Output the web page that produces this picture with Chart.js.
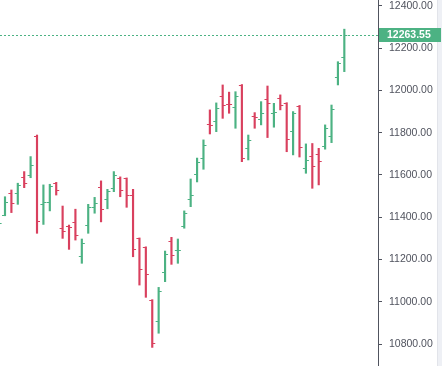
<!DOCTYPE html>
<html>
<head>
<meta charset="utf-8">
<script src="https://cdn.jsdelivr.net/npm/chart.js@4.4.1/dist/chart.umd.min.js"></script>
<style>
  html, body { margin: 0; padding: 0; background: #ffffff; }
  #wrap { width: 442px; height: 366px; position: relative; }
</style>
</head>
<body>
<div id="wrap"><canvas id="c" width="442" height="366"></canvas></div>
<script>
// ---- data (OHLC per session) ----
const sessions = Array.from({length: 55}, (_, i) => i);
const opens  = [11345,11411,11513,11513,11592,11600,11785,11461,11474,11561,
                11351,11359,11378,11215,11362,11447,11542,11485,11537,11584,
                11584,11505,11300,11258,11008,10907,11139,11288,11243,11360,
                11485,11603,11682,11840,11856,11975,11938,11920,12026,11726,
                11877,11864,11958,11895,11963,11939,11807,11927,11632,11688,
                11699,11737,11785,12063,12157];
const highs  = [11400,11497,11529,11561,11616,11687,11789,11553,11556,11565,
                11453,11363,11438,11297,11461,11494,11572,11532,11616,11591,
                11586,11532,11302,11260,11010,11068,11240,11305,11297,11430,
                11581,11680,11766,11908,11941,12026,11992,11994,12028,11789,
                11895,11947,12021,11939,11979,11942,11900,11929,11747,11749,
                11726,11837,11931,12136,12290];
const lows   = [11330,11407,11422,11461,11540,11587,11324,11366,11430,11505,
                11300,11248,11292,11182,11324,11419,11378,11440,11521,11497,
                11447,11213,11079,11021,10784,10851,11095,11177,11182,11348,
                11450,11567,11627,11794,11805,11868,11892,11821,11663,11671,
                11821,11837,11777,11826,11908,11710,11695,11685,11608,11537,
                11553,11722,11753,12026,12089];
const closes = [11374,11471,11469,11553,11561,11647,11384,11472,11548,11529,
                11335,11352,11315,11277,11447,11466,11439,11526,11600,11529,
                11505,11248,11154,11130,10803,11051,11225,11221,11247,11422,
                11505,11663,11742,11837,11916,11931,11934,11975,11679,11766,
                11875,11895,11942,11897,11931,11769,11895,11734,11671,11641,
                11668,11821,11912,12132,12263.55];
const yTicks = [10800, 11000, 11200, 11400, 11600, 11800, 12000, 12200, 12400];
const lastPrice = 12263.55;

const UP = '#4cb283';
const DOWN = '#d9405e';
const TEXT = '#50535e';
const barColors = sessions.map(i => closes[i] >= opens[i] ? UP : DOWN);

const ohlcTicks = {
  id: 'ohlcTicks',
  afterDatasetsDraw(chart) {
    const {ctx, chartArea, scales: {x, y}} = chart;
    ctx.save();
    ctx.beginPath();
    ctx.rect(chartArea.left, chartArea.top, chartArea.right - chartArea.left, chartArea.bottom - chartArea.top);
    ctx.clip();
    ctx.lineWidth = 1.2;
    sessions.forEach(i => {
      const px = x.getPixelForValue(i);
      const yo = Math.round(y.getPixelForValue(opens[i])) + 0.5;
      const yc = Math.round(y.getPixelForValue(closes[i])) + 0.5;
      ctx.strokeStyle = barColors[i];
      ctx.beginPath();
      ctx.moveTo(px - 3, yo); ctx.lineTo(px, yo);
      ctx.moveTo(px, yc); ctx.lineTo(px + 3, yc);
      ctx.stroke();
    });
    // last price dotted line
    const ly = Math.round(y.getPixelForValue(lastPrice)) + 0.5;
    ctx.lineWidth = 1;
    ctx.strokeStyle = UP;
    ctx.setLineDash([2, 2]);
    ctx.beginPath();
    ctx.moveTo(chartArea.left, ly); ctx.lineTo(chartArea.right, ly);
    ctx.stroke();
    ctx.restore();
  },
  afterDraw(chart) {
    const {ctx, chartArea, scales: {y}} = chart;
    ctx.save();
    // right edge strip
    ctx.fillStyle = '#eef0f5';
    ctx.fillRect(437, 0, 5, chart.height);
    ctx.strokeStyle = '#e2e4ea';
    ctx.lineWidth = 1;
    ctx.beginPath(); ctx.moveTo(437.5, 0); ctx.lineTo(437.5, chart.height); ctx.stroke();
    // last price label
    const ly = y.getPixelForValue(lastPrice);
    ctx.fillStyle = UP;
    ctx.fillRect(chartArea.right + 1, Math.round(ly) - 7, 62, 14);
    ctx.fillStyle = '#ffffff';
    ctx.font = 'bold 10.5px "Liberation Sans", Arial, sans-serif';
    ctx.textBaseline = 'middle';
    ctx.textAlign = 'left';
    ctx.fillText(lastPrice.toFixed(2), chartArea.right + 9, ly + 0.5);
    ctx.restore();
  }
};

new Chart(document.getElementById('c'), {
  type: 'bar',
  data: {
    datasets: [{
      data: sessions.map(i => ({x: i, y: [lows[i], highs[i]]})),
      backgroundColor: barColors,
      borderWidth: 0,
      barThickness: 1.5
    }]
  },
  options: {
    responsive: false,
    devicePixelRatio: 1,
    animation: false,
    layout: { padding: 0 },
    plugins: { legend: { display: false }, tooltip: { enabled: false } },
    scales: {
      x: {
        type: 'linear',
        min: 0.22,
        max: 59.26,
        display: false,
        offset: false
      },
      y: {
        position: 'right',
        min: 10696,
        max: 12428,
        afterBuildTicks: (scale) => { scale.ticks = yTicks.map(v => ({value: v})); },
        afterFit: (scale) => { scale.width = 64; scale.paddingTop = 0; scale.paddingBottom = 0; },
        grid: { display: true, drawOnChartArea: false, drawTicks: true, tickLength: 4, color: TEXT, lineWidth: 1 },
        border: { display: true, color: TEXT, width: 1 },
        ticks: {
          padding: 7,
          color: TEXT,
          font: { family: '"Liberation Sans", Arial, sans-serif', size: 10.5 },
          callback: (v) => Number(v).toFixed(2)
        }
      }
    }
  },
  plugins: [ohlcTicks]
});
</script>
</body>
</html>
